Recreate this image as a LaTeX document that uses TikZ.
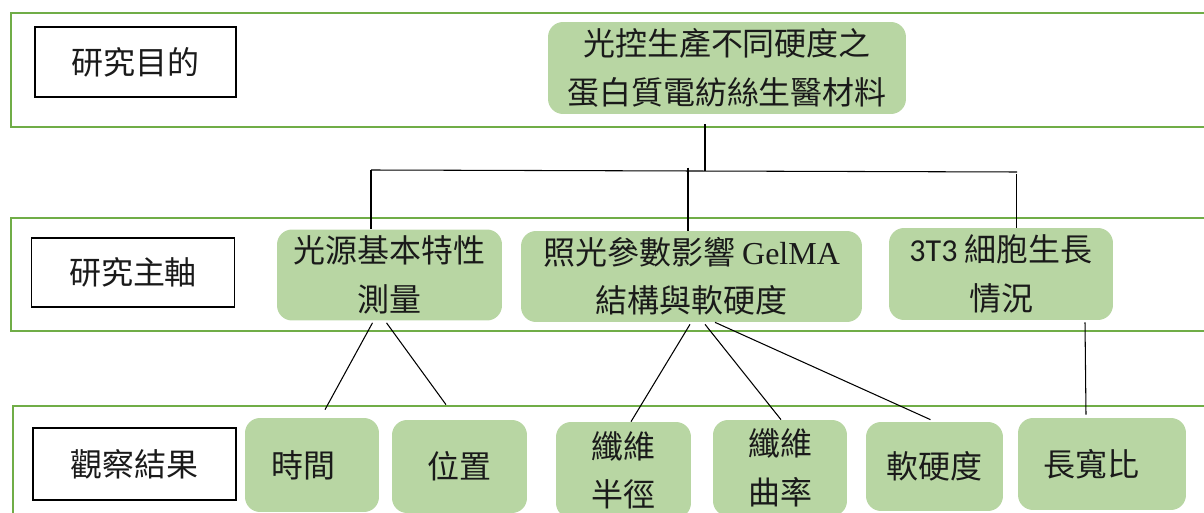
\documentclass[tikz,border=0pt]{standalone}
\usepackage{fontspec}
\setmainfont{Liberation Serif}
\newfontfamily\cjk{Noto Sans CJK TC}
\newfontfamily\calib{Carlito}
\usetikzlibrary{calc}
\definecolor{bandgreen}{HTML}{70AD47}
\definecolor{boxgreen}{HTML}{B8D6A3}
\definecolor{txt}{HTML}{1A1A1A}
\tikzset{
  band/.style={draw=bandgreen, line width=1.7pt},
  labelbox/.style={draw=black, line width=0.7pt, inner sep=0pt, text=txt,
    font=\cjk\fontsize{18.2}{27.5}\selectfont},
  greenbox/.style={fill=boxgreen, draw=none, rounded corners=0.3cm, inner sep=0pt,
    align=center, text=txt, font=\cjk\fontsize{18.2}{27.5}\selectfont},
  conn/.style={draw=black, line width=0.6pt}
}
\begin{document}
\begin{tikzpicture}[x=0.02cm,y=-0.02cm]
\useasboundingbox (0,0) rectangle (1204,513);
% bands
\draw[band] (11,13) rectangle (1230,127);
\draw[band] (11,218) rectangle (1230,331);
\draw[band] (13,406) rectangle (1230,540);
% left labels
\node[labelbox, minimum width=4.02cm, minimum height=1.4cm] (l1) at (135.5,62) {研究目的};
\node[labelbox, minimum width=4.06cm, minimum height=1.38cm] (l2) at (133,272.5) {研究主軸};
\node[labelbox, minimum width=4.06cm, minimum height=1.44cm] (l3) at (134.5,464) {觀察結果};
% top goal
\node[greenbox, minimum width=7.16cm, minimum height=1.84cm] (top) at (727,68) {光控生產不同硬度之\\蛋白質電紡絲生醫材料};
% main axes
\node[greenbox, minimum width=4.5cm, minimum height=1.82cm] (m1) at (389.5,275) {光源基本特性\\測量};
\node[greenbox, minimum width=6.82cm, minimum height=1.82cm] (m2) at (691.5,276.5) {照光參數影響 {\rmfamily GelMA}\\結構與軟硬度};
\node[greenbox, minimum width=4.48cm, minimum height=1.84cm] (m3) at (1001,274) {{\calib 3T3} 細胞生長\\情況};
% observations
\node[greenbox, minimum width=2.68cm, minimum height=1.88cm] (b1) at (312,465) {時間\hspace{0.36cm}};
\node[greenbox, minimum width=2.7cm, minimum height=1.86cm] (b2) at (459.5,466.5) {位置};
\node[greenbox, minimum width=2.7cm, minimum height=1.92cm] (b3) at (623.5,470) {纖維\\半徑};
\node[greenbox, minimum width=2.68cm, minimum height=1.92cm] (b4) at (780,468) {纖維\\曲率};
\node[greenbox, minimum width=2.74cm, minimum height=1.78cm] (b5) at (934.5,466.5) {軟硬度};
\node[greenbox, minimum width=3.36cm, minimum height=1.84cm] (b6) at (1102,464) {長寬比\hspace{0.44cm}};
% tree from goal to axes
\coordinate (busL) at (371,170);
\coordinate (busR) at (1017,172);
\draw[conn] ($(top.south)+(-22,10)$) -- ($(top.south)+(-22,57)$);
\draw[conn] (busL) -- (busR);
\draw[conn] (busL) -- (busL |- m1.north);
\draw[conn] ($(m2.north)+(-3.5,-63)$) -- ($(m2.north)+(-3.5,0)$);
\draw[conn] ($(m3.north)+(15.5,-54)$) -- ($(m3.north)+(15.5,0)$);
% axes to observations
\draw[conn] ($(m1.south)+(-17,2)$) -- ($(b1.north)+(13,-8)$);
\draw[conn] ($(m1.south)+(-3,2)$) -- ($(b2.north)+(-13.5,-15)$);
\draw[conn] ($(m2.south)+(-1.5,2)$) -- ($(b3.north)+(7.5,0)$);
\draw[conn] ($(m2.south)+(13.5,2)$) -- ($(b4.north)+(1,0)$);
\draw[conn] ($(m2.south)+(23.5,0)$) -- ($(b5.north)+(-4,-2)$);
\draw[conn] ($(m3.south)+(84,2)$) -- ($(b6.north)+(-16,-3)$);
\end{tikzpicture}
\end{document}
